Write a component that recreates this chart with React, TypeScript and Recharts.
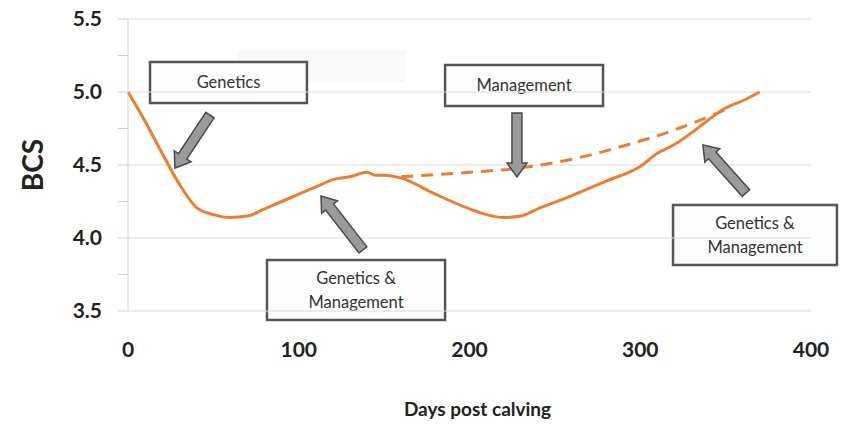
import React from 'react';
import {
  LineChart,
  Line,
  XAxis,
  YAxis,
  ReferenceLine,
  ReferenceArea,
  Label,
} from 'recharts';

// Body condition score over the lactation (solid) and the managed path (dashed)
const bcsCurve = [
  { day: 0, bcs: 5.0 },
  { day: 10, bcs: 4.8 },
  { day: 20, bcs: 4.58 },
  { day: 30, bcs: 4.37 },
  { day: 40, bcs: 4.21 },
  { day: 50, bcs: 4.16 },
  { day: 60, bcs: 4.14 },
  { day: 70, bcs: 4.15 },
  { day: 80, bcs: 4.2 },
  { day: 90, bcs: 4.25 },
  { day: 100, bcs: 4.3 },
  { day: 110, bcs: 4.35 },
  { day: 120, bcs: 4.4 },
  { day: 130, bcs: 4.42 },
  { day: 140, bcs: 4.45 },
  { day: 145, bcs: 4.43 },
  { day: 150, bcs: 4.43 },
  { day: 160, bcs: 4.41 },
  { day: 180, bcs: 4.3 },
  { day: 200, bcs: 4.2 },
  { day: 210, bcs: 4.16 },
  { day: 220, bcs: 4.14 },
  { day: 230, bcs: 4.15 },
  { day: 240, bcs: 4.2 },
  { day: 260, bcs: 4.29 },
  { day: 280, bcs: 4.39 },
  { day: 300, bcs: 4.49 },
  { day: 310, bcs: 4.58 },
  { day: 320, bcs: 4.64 },
  { day: 330, bcs: 4.72 },
  { day: 340, bcs: 4.81 },
  { day: 350, bcs: 4.89 },
  { day: 360, bcs: 4.94 },
  { day: 370, bcs: 5.0 },
];

const managedCurve = [
  { day: 160, bcs: 4.42 },
  { day: 200, bcs: 4.45 },
  { day: 230, bcs: 4.48 },
  { day: 260, bcs: 4.54 },
  { day: 290, bcs: 4.63 },
  { day: 320, bcs: 4.74 },
  { day: 350, bcs: 4.88 },
];

const xTicks = [0, 100, 200, 300, 400];
const yTicks = [3.5, 3.75, 4.0, 4.25, 4.5, 4.75, 5.0, 5.25, 5.5];
const yMajor = [3.5, 4.0, 4.5, 5.0, 5.5];

// callout boxes, in data units
const boxes = [
  { x1: 12.9, x2: 104.8, y1: 4.925, y2: 5.205, lines: ['Genetics'] },
  { x1: 185.7, x2: 278.2, y1: 4.904, y2: 5.185, lines: ['Management'] },
  { x1: 81.4, x2: 185.7, y1: 3.438, y2: 3.849, lines: ['Genetics &', 'Management'] },
  { x1: 319.2, x2: 415.2, y1: 3.815, y2: 4.226, lines: ['Genetics &', 'Management'] },
];

// arrows: tail -> tip, in data units
const arrows = [
  { from: { x: 48.0, y: 4.842 }, to: { x: 27.5, y: 4.479 } },
  { from: { x: 137.6, y: 3.918 }, to: { x: 113.0, y: 4.288 } },
  { from: { x: 227.8, y: 4.856 }, to: { x: 227.8, y: 4.418 } },
  { from: { x: 361.9, y: 4.308 }, to: { x: 336.7, y: 4.637 } },
];

const FONT = 'Lato, "Open Sans", sans-serif';
const ORANGE = '#ED7D31';

const BlockArrow = (props: any) => {
  const { x1, y1, x2, y2 } = props;
  if ([x1, y1, x2, y2].some((v) => v == null || isNaN(v))) return null;
  const dx = x2 - x1;
  const dy = y2 - y1;
  const len = Math.sqrt(dx * dx + dy * dy);
  const ux = dx / len;
  const uy = dy / len;
  const px = -uy;
  const py = ux;
  const shaft = 5;
  const head = 10;
  const headLen = 14;
  const bx = x2 - ux * headLen;
  const by = y2 - uy * headLen;
  const pts = [
    [x1 + px * shaft, y1 + py * shaft],
    [bx + px * shaft, by + py * shaft],
    [bx + px * head, by + py * head],
    [x2, y2],
    [bx - px * head, by - py * head],
    [bx - px * shaft, by - py * shaft],
    [x1 - px * shaft, y1 - py * shaft],
  ]
    .map((p) => p.join(','))
    .join(' ');
  return <polygon points={pts} fill="#9a9a9a" stroke="#4a4a4a" strokeWidth={1.5} />;
};

const BoxText = (lines: string[]) => (props: any) => {
  const vb = props.viewBox || {};
  const cx = vb.x + vb.width / 2;
  const cy = vb.y + vb.height / 2;
  const lh = 24;
  const start = cy - ((lines.length - 1) * lh) / 2;
  return (
    <text
      x={cx}
      textAnchor="middle"
      fontFamily={FONT}
      fontSize={16.5}
      fill="#333"
    >
      {lines.map((l, i) => (
        <tspan key={i} x={cx} y={start + i * lh} dy="0.35em">
          {l}
        </tspan>
      ))}
    </text>
  );
};

const YTick = (props: any) => {
  const { x, y, payload } = props;
  if (!yMajor.includes(payload.value)) return null;
  return (
    <text
      x={x}
      y={y}
      dy="0.35em"
      textAnchor="end"
      fontFamily={FONT}
      fontWeight={700}
      fontSize={21}
      fill="#222"
    >
      {payload.value.toFixed(1)}
    </text>
  );
};

export default function App() {
  return (
    <div style={{ position: 'absolute', left: 0, top: 0, background: '#fff' }}>
      <LineChart
        width={848}
        height={428}
        margin={{ top: 19, right: 37, bottom: 0, left: 0 }}
      >
        <XAxis
          type="number"
          dataKey="day"
          domain={[0, 400]}
          ticks={xTicks}
          interval={0}
          tickLine={false}
          axisLine={false}
          tickMargin={25}
          height={117}
          tick={{ fontFamily: FONT, fontWeight: 700, fontSize: 21, fill: '#222' }}
        >
          <Label
            value="Days post calving"
            position="insideBottom"
            offset={12}
            dx={8}
            style={{ fontFamily: FONT, fontWeight: 700, fontSize: 19, fill: '#222' }}
          />
        </XAxis>
        <YAxis
          type="number"
          domain={[3.5, 5.5]}
          ticks={yTicks}
          interval={0}
          width={128}
          tickSize={10}
          tickMargin={16}
          tickLine={{ stroke: '#cfcfcf' }}
          axisLine={{ stroke: '#cfcfcf' }}
          tick={<YTick />}
        >
          <Label
            value="BCS"
            angle={-90}
            position="insideLeft"
            offset={33}
            style={{ fontFamily: FONT, fontWeight: 700, fontSize: 28, fill: '#222', textAnchor: 'middle' }}
          />
        </YAxis>
        {yMajor.map((v) => (
          <ReferenceLine key={v} y={v} stroke="#d9d9d9" strokeWidth={1} />
        ))}
        <ReferenceArea
          x1={63.8}
          x2={162.2}
          y1={5.068}
          y2={5.288}
          fill="#f9f9f9"
          fillOpacity={1}
          stroke="none"
        />
        <Line
          data={bcsCurve}
          dataKey="bcs"
          type="monotone"
          stroke={ORANGE}
          strokeWidth={3}
          dot={false}
          isAnimationActive={false}
        />
        <Line
          data={managedCurve}
          dataKey="bcs"
          type="monotone"
          stroke={ORANGE}
          strokeWidth={3}
          strokeDasharray="12 8"
          dot={false}
          isAnimationActive={false}
        />
        {boxes.map((b, i) => (
          <ReferenceArea
            key={'b' + i}
            x1={b.x1}
            x2={b.x2}
            y1={b.y1}
            y2={b.y2}
            ifOverflow="visible"
            fill="#fdfdfd"
            fillOpacity={1}
            stroke="#555"
            strokeWidth={2.5}
            label={BoxText(b.lines)}
          />
        ))}
        {arrows.map((a, i) => (
          <ReferenceLine
            key={'a' + i}
            segment={[a.from, a.to]}
            ifOverflow="visible"
            shape={BlockArrow}
          />
        ))}
      </LineChart>
    </div>
  );
}
